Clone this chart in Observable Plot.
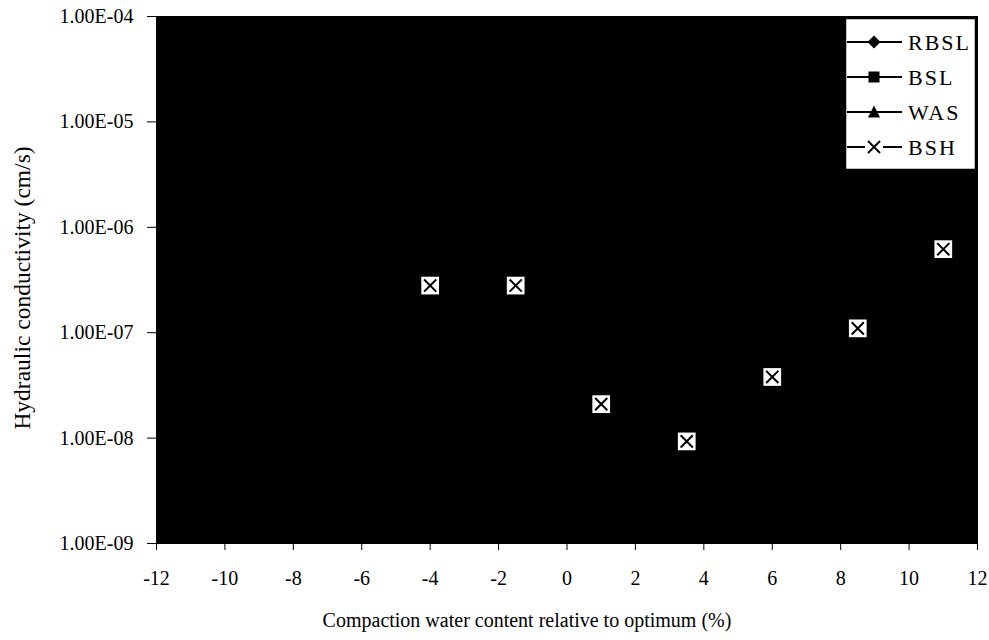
<!DOCTYPE html>
<html>
<head>
<meta charset="utf-8">
<script src="https://cdn.jsdelivr.net/npm/d3@7"></script>
<script src="https://cdn.jsdelivr.net/npm/@observablehq/plot@0.6"></script>
<style>
  html, body { margin: 0; padding: 0; background: white; }
</style>
</head>
<body>
<div id="chart"></div>
<script>
// Series shown in the legend
const seriesNames = ["RBSL", "BSL", "WAS", "BSH"];
const seriesSymbols = ["diamond", "square", "triangle", "times"];

// BSH: compaction water content relative to optimum (%) and hydraulic conductivity (cm/s)
const bshWater = [-4, -1.5, 1, 3.5, 6, 8.5, 11];
const bshK = [2.8e-7, 2.8e-7, 2.1e-8, 9.3e-9, 3.8e-8, 1.1e-7, 6.2e-7];

// Axis ticks
const xTicks = [-12, -10, -8, -6, -4, -2, 0, 2, 4, 6, 8, 10, 12];
const yTicks = [1e-9, 1e-8, 1e-7, 1e-6, 1e-5, 1e-4];

const xTitle = "Compaction water content relative to optimum (%)";
const yTitle = "Hydraulic conductivity (cm/s)";

const bsh = bshWater.map((w, i) => ({w, k: bshK[i]}));

// Spreadsheet-style scientific notation, e.g. 1.00E-07
const sci = d => {
  const [m, e] = d.toExponential(2).split("e");
  const n = Math.abs(+e);
  return `${m}E${+e < 0 ? "-" : "+"}${String(n).padStart(2, "0")}`;
};

const chart = Plot.plot({
  width: 989,
  height: 640,
  marginLeft: 156,
  marginRight: 12,
  marginTop: 16,
  marginBottom: 97,
  style: {
    fontFamily: "'Liberation Serif', 'Times New Roman', serif",
    fontSize: "20px",
    background: "white",
    color: "black",
    overflow: "visible"
  },
  x: {domain: [-12, 12]},
  y: {type: "log", domain: [1e-9, 1e-4]},
  marks: [
    Plot.frame({fill: "black", stroke: "black"}),
    Plot.axisY({ticks: yTicks, tickFormat: sci, tickSize: 9, tickPadding: 14, label: null}),
    Plot.axisX({ticks: xTicks, tickFormat: d => String(d), tickSize: 7, tickPadding: 20, label: null}),
    // white square backing each BSH marker
    Plot.dot(bsh, {x: "w", y: "k", symbol: "square", r: 10, fill: "white", stroke: "none"}),
    Plot.dot(bsh, {x: "w", y: "k", symbol: "times", r: 5.6, stroke: "black", strokeWidth: 2}),
    Plot.text([xTitle], {frameAnchor: "bottom", textAnchor: "middle", lineAnchor: "middle", dy: 77, dx: -40, text: d => d}),
    Plot.text([yTitle], {frameAnchor: "left", textAnchor: "middle", lineAnchor: "middle", dx: -134, dy: 8, rotate: -90, fontSize: 23.5, text: d => d})
  ]
});

document.getElementById("chart").appendChild(chart);

// Legend box in the upper right corner
const svg = d3.select(chart);
const lg = svg.append("g").attr("class", "legend");
const box = {x: 845, y: 18, w: 131, h: 152};
lg.append("rect")
  .attr("x", box.x).attr("y", box.y)
  .attr("width", box.w).attr("height", box.h)
  .attr("fill", "white").attr("stroke", "black").attr("stroke-width", 2.5);

const rowY = i => 42 + i * 35;
const symbolPath = {
  diamond: "M0,-6.5L6.5,0L0,6.5L-6.5,0Z",
  square: "M-5.5,-5.5H5.5V5.5H-5.5Z",
  triangle: "M0,-6.5L6,5.5H-6Z",
  times: d3.symbol(d3.symbolTimes, 96)()
};

seriesNames.forEach((name, i) => {
  const y = rowY(i);
  const row = lg.append("g");
  row.append("line")
    .attr("x1", 847).attr("x2", 902).attr("y1", y).attr("y2", y)
    .attr("stroke", "black").attr("stroke-width", 2);
  const sym = seriesSymbols[i];
  if (sym === "times") {
    row.append("rect").attr("x", 874 - 9).attr("y", y - 9)
      .attr("width", 18).attr("height", 18).attr("fill", "white");
    row.append("path").attr("d", symbolPath.times)
      .attr("transform", `translate(874,${y})`)
      .attr("fill", "none").attr("stroke", "black").attr("stroke-width", 2);
  } else {
    row.append("path").attr("d", symbolPath[sym])
      .attr("transform", `translate(874,${y})`)
      .attr("fill", "black");
  }
  row.append("text")
    .attr("x", 908).attr("y", y).attr("dy", "0.35em")
    .attr("text-anchor", "start")
    .attr("fill", "black")
    .attr("font-size", 22)
    .attr("letter-spacing", 2)
    .text(name);
});
</script>
</body>
</html>
